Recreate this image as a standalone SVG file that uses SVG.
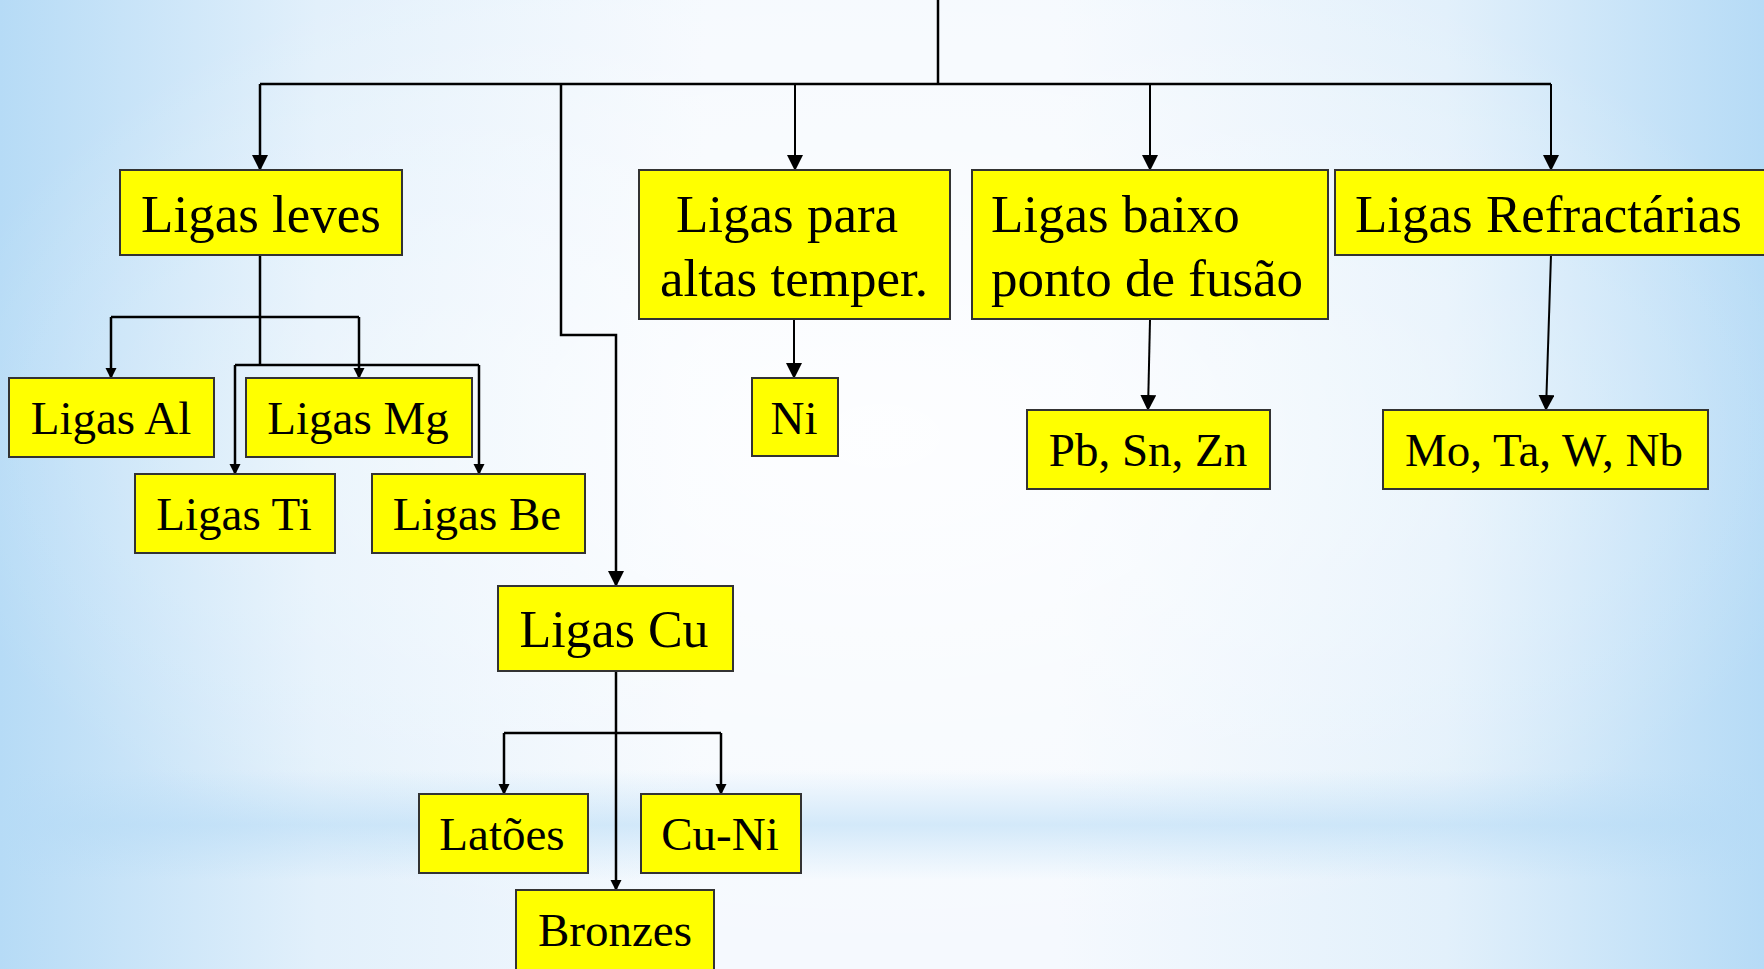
<svg xmlns="http://www.w3.org/2000/svg" width="1764" height="969" viewBox="0 0 1764 969">
<defs>
<linearGradient id="bgH" x1="0" y1="0" x2="1" y2="0">
<stop offset="0" stop-color="#b6dbf6"/>
<stop offset="0.18" stop-color="#e2f0fb"/>
<stop offset="0.4" stop-color="#f5f9fe"/>
<stop offset="0.6" stop-color="#f5f9fe"/>
<stop offset="0.82" stop-color="#e2f0fb"/>
<stop offset="1" stop-color="#b6dbf6"/>
</linearGradient>
<radialGradient id="bgR" cx="0.5" cy="0.45" r="0.55">
<stop offset="0" stop-color="#ffffff" stop-opacity="0.8"/>
<stop offset="0.6" stop-color="#ffffff" stop-opacity="0.3"/>
<stop offset="1" stop-color="#ffffff" stop-opacity="0"/>
</radialGradient>
<linearGradient id="band" x1="0" y1="0" x2="0" y2="1">
<stop offset="0" stop-color="#b6dbf6" stop-opacity="0"/>
<stop offset="0.5" stop-color="#b6dbf6" stop-opacity="0.55"/>
<stop offset="1" stop-color="#b6dbf6" stop-opacity="0"/>
</linearGradient>
<marker id="ah" markerUnits="userSpaceOnUse" markerWidth="16" markerHeight="17" refX="15" refY="8" orient="auto">
<path d="M0,0 L16,8 L0,16 Z" fill="#000"/>
</marker>
<marker id="as" markerUnits="userSpaceOnUse" markerWidth="11" markerHeight="12" refX="10" refY="5.5" orient="auto">
<path d="M0,0 L11,5.5 L0,11 Z" fill="#000"/>
</marker>
</defs>
<style>
.box{fill:#ffff00;stroke:#333;stroke-width:2}
.t{font-family:"Liberation Serif","Times New Roman",serif;fill:#000}
.big{font-size:53px}
.sm{font-size:47px}
.c{text-anchor:middle}
.ln{fill:none;stroke:#000;stroke-width:2.5}
.lt{fill:none;stroke:#000;stroke-width:2}
</style>
<rect x="0" y="0" width="1764" height="969" fill="url(#bgH)"/>
<rect x="0" y="0" width="1764" height="969" fill="url(#bgR)"/>
<rect x="0" y="770" width="1764" height="110" fill="url(#band)"/>

<g id="connectors">
<path class="ln" d="M938,0 V84"/>
<path class="ln" d="M260,84 H1551"/>
<path class="ln" d="M260,84 V170" marker-end="url(#ah)"/>
<path class="lt" d="M795,84 V170" marker-end="url(#ah)"/>
<path class="lt" d="M1150,84 V170" marker-end="url(#ah)"/>
<path class="lt" d="M1551,84 V170" marker-end="url(#ah)"/>
<path class="ln" d="M561,84 V335 H616 V586" marker-end="url(#ah)"/>
<path class="ln" d="M260,255 V365"/>
<path class="ln" d="M111,317 H359"/>
<path class="ln" d="M111,317 V378" marker-end="url(#as)"/>
<path class="ln" d="M359,317 V378" marker-end="url(#as)"/>
<path class="ln" d="M235,365 H479"/>
<path class="ln" d="M235,365 V474" marker-end="url(#as)"/>
<path class="ln" d="M479,365 V474" marker-end="url(#as)"/>
<path class="lt" d="M794,320 V378" marker-end="url(#ah)"/>
<path class="lt" d="M1150,320 L1148,410" marker-end="url(#ah)"/>
<path class="lt" d="M1551,255 L1546,410" marker-end="url(#ah)"/>
<path class="ln" d="M616,671 V890" marker-end="url(#as)"/>
<path class="ln" d="M504,733 H721"/>
<path class="ln" d="M504,733 V794" marker-end="url(#as)"/>
<path class="ln" d="M721,733 V794" marker-end="url(#as)"/>
</g>

<g id="ligas-leves"><rect class="box" x="120" y="170" width="282" height="85"/><text class="t big c" x="261" y="232">Ligas leves</text></g>
<g id="ligas-altas"><rect class="box" x="639" y="170" width="311" height="149"/><text class="t big c" x="787" y="232">Ligas para</text><text class="t big c" x="794" y="296">altas temper.</text></g>
<g id="ligas-baixo"><rect class="box" x="972" y="170" width="356" height="149"/><text class="t big" x="991" y="232">Ligas baixo</text><text class="t big" x="991" y="296">ponto de fusão</text></g>
<g id="ligas-refract"><rect class="box" x="1335" y="170" width="432" height="85"/><text class="t big" x="1355" y="232">Ligas Refractárias</text></g>
<g id="ligas-al"><rect class="box" x="9" y="378" width="205" height="79"/><text class="t sm c" x="111" y="434">Ligas Al</text></g>
<g id="ligas-mg"><rect class="box" x="246" y="378" width="226" height="79"/><text class="t sm c" x="358" y="434">Ligas Mg</text></g>
<g id="ligas-ti"><rect class="box" x="135" y="474" width="200" height="79"/><text class="t sm c" x="234" y="530">Ligas Ti</text></g>
<g id="ligas-be"><rect class="box" x="372" y="474" width="213" height="79"/><text class="t sm c" x="477" y="530">Ligas Be</text></g>
<g id="ni"><rect class="box" x="752" y="378" width="86" height="78"/><text class="t sm c" x="794" y="434">Ni</text></g>
<g id="pb-sn-zn"><rect class="box" x="1027" y="410" width="243" height="79"/><text class="t sm c" x="1148" y="466">Pb, Sn, Zn</text></g>
<g id="mo-ta-w-nb"><rect class="box" x="1383" y="410" width="325" height="79"/><text class="t sm c" x="1544" y="466">Mo, Ta, W, Nb</text></g>
<g id="ligas-cu"><rect class="box" x="498" y="586" width="235" height="85"/><text class="t c" style="font-size:52px" x="614" y="647">Ligas Cu</text></g>
<g id="latoes"><rect class="box" x="419" y="794" width="169" height="79"/><text class="t sm c" x="502" y="850">Latões</text></g>
<g id="cu-ni"><rect class="box" x="641" y="794" width="160" height="79"/><text class="t sm c" x="720" y="850">Cu-Ni</text></g>
<g id="bronzes"><rect class="box" x="516" y="890" width="198" height="85"/><text class="t sm c" x="615" y="946">Bronzes</text></g>
</svg>
